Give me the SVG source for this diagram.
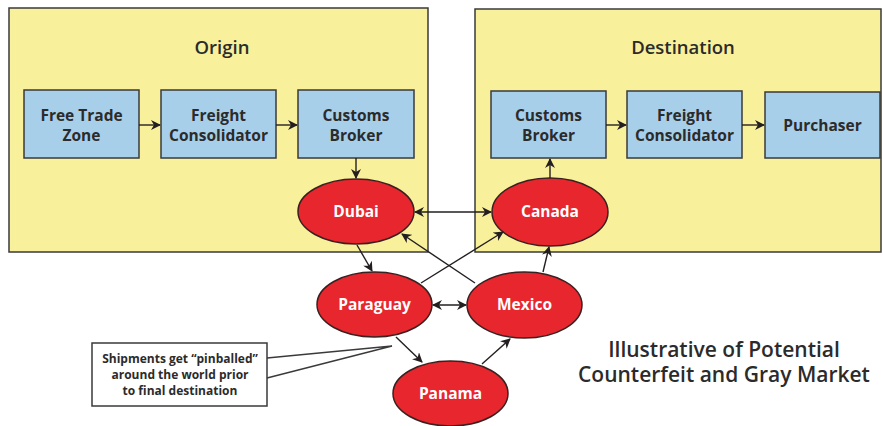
<svg xmlns="http://www.w3.org/2000/svg" width="883" height="426" viewBox="0 0 883 426">
<defs>
<marker id="ah" viewBox="0 0 10 10" refX="9" refY="5" markerWidth="10" markerHeight="10" markerUnits="userSpaceOnUse" orient="auto-start-reverse">
<path d="M0,0 L10,5 L0,10 L3,5 Z" fill="#231f20"/>
</marker>
<style>
.region{fill:#f8f09b;stroke:#3a3a3a;stroke-width:1.5}
.box{fill:#a8cfe9;stroke:#3a3a3a;stroke-width:1.5}
.loc{fill:#e8262d;stroke:#3a2020;stroke-width:1.5}
.t{font-family:"Open Sans","Noto Sans","Liberation Sans",sans-serif;text-anchor:middle}
.bt{font-size:15.5px;font-weight:bold;fill:#2b2b2b}
.wt{font-size:15.5px;font-weight:bold;fill:#ffffff}
.head{font-size:18.5px;font-weight:600;fill:#2b2b2b}
.cap{font-size:12px;font-weight:bold;fill:#2b2b2b}
.ttl{font-size:21px;font-weight:600;fill:#2b2b2b}
.c{stroke:#231f20;stroke-width:1.4;fill:none}
</style>
</defs>
<rect width="883" height="426" fill="#ffffff"/>
<g id="origin">
<rect class="region" x="9" y="8" width="419" height="244"/>
<text class="t head" x="222" y="54">Origin</text>
</g>
<g id="destination">
<rect class="region" x="475" y="9" width="406" height="243"/>
<text class="t head" x="683" y="54">Destination</text>
</g>
<g id="free-trade-zone">
<rect class="box" x="24" y="90" width="115" height="68"/>
<text class="t bt" x="81.5" y="121">Free Trade</text>
<text class="t bt" x="81.5" y="141">Zone</text>
</g>
<g id="freight-consolidator-origin">
<rect class="box" x="161" y="90" width="115" height="68"/>
<text class="t bt" x="218.5" y="121">Freight</text>
<text class="t bt" x="218.5" y="141">Consolidator</text>
</g>
<g id="customs-broker-origin">
<rect class="box" x="298" y="90" width="116" height="68"/>
<text class="t bt" x="356" y="121">Customs</text>
<text class="t bt" x="356" y="141">Broker</text>
</g>
<g id="customs-broker-dest">
<rect class="box" x="491" y="91" width="115" height="67"/>
<text class="t bt" x="548.5" y="121">Customs</text>
<text class="t bt" x="548.5" y="141">Broker</text>
</g>
<g id="freight-consolidator-dest">
<rect class="box" x="627" y="91" width="115" height="67"/>
<text class="t bt" x="684.5" y="121">Freight</text>
<text class="t bt" x="684.5" y="141">Consolidator</text>
</g>
<g id="purchaser">
<rect class="box" x="765" y="92" width="115" height="66"/>
<text class="t bt" x="822.5" y="131">Purchaser</text>
</g>
<g id="dubai">
<ellipse class="loc" cx="356" cy="211.5" rx="58" ry="32.5"/>
<text class="t wt" x="356" y="217">Dubai</text>
</g>
<g id="canada">
<ellipse class="loc" cx="550" cy="212" rx="58" ry="34"/>
<text class="t wt" x="550" y="217">Canada</text>
</g>
<g id="paraguay">
<ellipse class="loc" cx="374.5" cy="304.5" rx="57.5" ry="32.5"/>
<text class="t wt" x="374.5" y="309.5">Paraguay</text>
</g>
<g id="mexico">
<ellipse class="loc" cx="524.5" cy="305" rx="57.5" ry="33"/>
<text class="t wt" x="524.5" y="310">Mexico</text>
</g>
<g id="panama">
<ellipse class="loc" cx="450.5" cy="393.5" rx="57.5" ry="32.5"/>
<text class="t wt" x="450.5" y="398.5">Panama</text>
</g>
<g id="connectors">
<line class="c" x1="139" y1="125" x2="160" y2="125" marker-end="url(#ah)"/>
<line class="c" x1="276" y1="125" x2="297" y2="125" marker-end="url(#ah)"/>
<line class="c" x1="356" y1="158" x2="356" y2="178" marker-end="url(#ah)"/>
<line class="c" x1="606" y1="125" x2="626" y2="125" marker-end="url(#ah)"/>
<line class="c" x1="742" y1="125" x2="764" y2="125" marker-end="url(#ah)"/>
<line class="c" x1="550" y1="178" x2="550" y2="159" marker-end="url(#ah)"/>
<line class="c" x1="415" y1="212" x2="491" y2="212" marker-start="url(#ah)" marker-end="url(#ah)"/>
<line class="c" x1="357" y1="245" x2="372" y2="271" marker-end="url(#ah)"/>
<line class="c" x1="421" y1="283" x2="503" y2="232" marker-end="url(#ah)"/>
<line class="c" x1="475" y1="283" x2="402" y2="234" marker-end="url(#ah)"/>
<line class="c" x1="433" y1="305" x2="466" y2="305" marker-start="url(#ah)" marker-end="url(#ah)"/>
<line class="c" x1="543" y1="272" x2="549" y2="247" marker-end="url(#ah)"/>
<line class="c" x1="396" y1="337" x2="422" y2="362" marker-end="url(#ah)"/>
<line class="c" x1="482" y1="364" x2="510" y2="339" marker-end="url(#ah)"/>
</g>
<g id="callout">
<rect x="92" y="343" width="175" height="63" fill="#ffffff" stroke="#3a3a3a" stroke-width="1.5"/>
<polyline points="267,358 392,346 267,378" fill="none" stroke="#3a3a3a" stroke-width="1.4"/>
<text class="t cap" x="180" y="363">Shipments get “pinballed”</text>
<text class="t cap" x="180" y="379">around the world prior</text>
<text class="t cap" x="180" y="395">to final destination</text>
</g>
<g id="title">
<text class="t ttl" x="724" y="357">Illustrative of Potential</text>
<text class="t ttl" x="724" y="382">Counterfeit and Gray Market</text>
</g>
</svg>
